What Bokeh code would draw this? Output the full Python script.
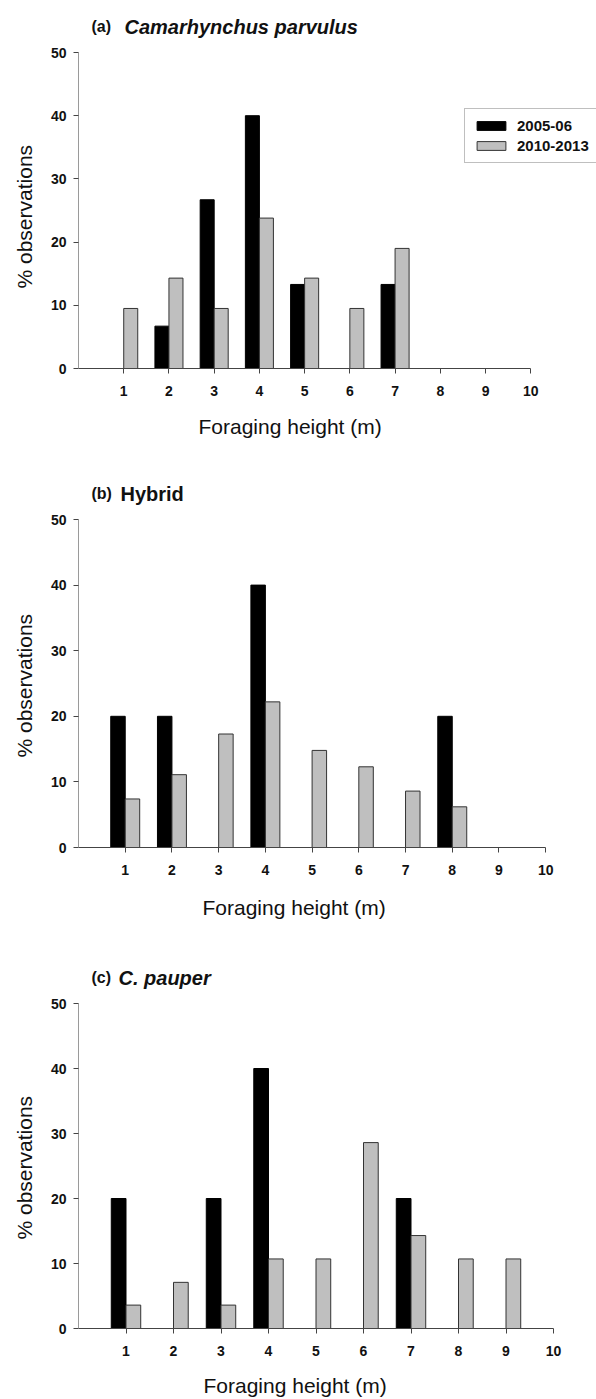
from bokeh.plotting import figure
from bokeh.models import (ColumnDataSource, FixedTicker, Label, Legend,
                          LegendItem, LinearAxis, Range1d, Title)
from bokeh.layouts import column
from bokeh.embed import file_html
from bokeh.resources import INLINE

# Foraging height classes (m) and survey periods
heights = [1, 2, 3, 4, 5, 6, 7, 8, 9, 10]
periods = ["2005-06", "2010-2013"]
y_ticks = [0, 10, 20, 30, 40, 50]

# % of observations per height class
parvulus_2005 = [0, 6.7, 26.7, 40.0, 13.3, 0, 13.3, 0, 0, 0]
parvulus_2010 = [9.5, 14.3, 9.5, 23.8, 14.3, 9.5, 19.0, 0, 0, 0]

hybrid_2005 = [20.0, 20.0, 0, 40.0, 0, 0, 0, 20.0, 0, 0]
hybrid_2010 = [7.4, 11.1, 17.3, 22.2, 14.8, 12.3, 8.6, 6.2, 0, 0]

pauper_2005 = [20.0, 0, 20.0, 40.0, 0, 0, 20.0, 0, 0, 0]
pauper_2010 = [3.6, 7.1, 3.6, 10.7, 10.7, 28.6, 14.3, 10.7, 10.7, 0]

FONT = "Liberation Sans"
BAR_W = 0.31
BLACK = "#000000"
GREY = "#bfbfbf"
CANVAS_W = 596


def bar_source(values, shift):
    xs = [h + shift for h, v in zip(heights, values) if v > 0]
    tops = [v for v in values if v > 0]
    return ColumnDataSource(data=dict(x=xs, top=tops))


def axis_title(text, offset, standoff):
    return Title(text=text, align="left", offset=offset,
                 vertical_align="middle", standoff=standoff, text_font=FONT,
                 text_font_size="21px", text_font_style="normal",
                 text_color="#111111")


def gap_axis(size, at):
    """A blank white-ticked axis that only leaves room above the x title."""
    return LinearAxis(ticker=FixedTicker(ticks=[at]), axis_line_color=None,
                      major_tick_in=0, major_tick_out=size,
                      major_tick_line_color="#ffffff", minor_tick_in=0,
                      minor_tick_out=0, minor_tick_line_color=None,
                      major_label_standoff=0,
                      major_label_overrides={at: ""},
                      major_label_text_font_size="0px")


def make_panel(tag, species, italic, early, late, height, left, axis_w,
               bottom, top_gap, title_base, species_x, xlab_off, ylab_off,
               xstand, ystand, xgap=0, legend=False):
    """One histogram panel; the frame runs to the top and right edges of
    the canvas so the heading and legend can sit inside it, while the axes
    are limited to 0-10 m and 0-50 %."""
    frame_w = CANVAS_W - left
    frame_h = height - bottom
    x_end = 10 * frame_w / axis_w
    y_end = 50 * frame_h / (frame_h - top_gap)

    p = figure(width=CANVAS_W, height=height,
               x_range=Range1d(0, x_end), y_range=Range1d(0, y_end),
               output_backend="svg", toolbar_location=None,
               min_border_left=left, min_border_right=0,
               min_border_top=0, min_border_bottom=bottom)
    p.outline_line_color = None
    p.grid.visible = False
    p.background_fill_color = "white"

    r_early = p.vbar(x="x", top="top", width=BAR_W, bottom=0,
                     source=bar_source(early, -BAR_W / 2),
                     fill_color=BLACK, line_color=BLACK, line_width=1)
    r_late = p.vbar(x="x", top="top", width=BAR_W, bottom=0,
                    source=bar_source(late, BAR_W / 2),
                    fill_color=GREY, line_color="#333333", line_width=1)

    for ax in (p.xaxis[0], p.yaxis[0]):
        ax.major_tick_in = 0
        ax.major_tick_out = 5
        ax.minor_tick_line_color = None
        ax.major_tick_line_color = "#444444"
        ax.major_label_text_font = FONT
        ax.major_label_text_font_size = "14px"
        ax.major_label_text_font_style = "bold"
        ax.major_label_text_color = "#111111"

    p.xaxis.ticker = FixedTicker(ticks=heights)
    p.xaxis.bounds = (0, 10)
    p.xaxis.axis_line_color = "#444444"
    p.xaxis.major_label_standoff = 12

    p.yaxis.ticker = FixedTicker(ticks=y_ticks)
    p.yaxis.bounds = (0, 50)
    p.yaxis.axis_line_color = "#9a9a9a"
    p.yaxis.major_label_standoff = 7

    # axis titles, set beside the axes
    if xgap:
        p.add_layout(gap_axis(xgap, round(x_end - 0.05, 2)), "below")
    p.add_layout(axis_title("Foraging height (m)", xlab_off, xstand), "below")
    p.add_layout(axis_title("% observations", ylab_off, ystand), "left")

    # heading: small bold panel tag followed by the taxon name
    base_y = frame_h - title_base
    p.add_layout(Label(x=13, y=base_y, x_units="screen", y_units="screen",
                       text=tag, text_font=FONT, text_font_size="16px",
                       text_font_style="bold", text_baseline="alphabetic",
                       text_color="#111111"))
    p.add_layout(Label(x=species_x, y=base_y, x_units="screen",
                       y_units="screen", text=species, text_font=FONT,
                       text_font_size="20px",
                       text_font_style="bold italic" if italic else "bold",
                       text_baseline="alphabetic", text_color="#111111"))

    if legend:
        lg = Legend(items=[LegendItem(label=periods[0], renderers=[r_early]),
                           LegendItem(label=periods[1], renderers=[r_late])],
                    location=(386, 205), orientation="vertical",
                    glyph_width=36, glyph_height=11, label_height=17,
                    spacing=3, padding=8, margin=0, label_standoff=8,
                    label_text_font=FONT, label_text_font_size="15px",
                    label_text_font_style="bold",
                    label_text_color="#111111",
                    border_line_color="#808080", border_line_width=1,
                    background_fill_color="white", background_fill_alpha=1)
        p.add_layout(lg)
    return p


pa = make_panel("(a)", "Camarhynchus parvulus", True,
                parvulus_2005, parvulus_2010,
                height=460, left=76, axis_w=454, bottom=92, top_gap=52,
                title_base=26, species_x=46, xlab_off=120, ylab_off=80,
                xstand=30, ystand=22, legend=True)
pb = make_panel("(b)", "Hybrid", False, hybrid_2005, hybrid_2010,
                height=480, left=76, axis_w=469, bottom=93, top_gap=59,
                title_base=33, species_x=42, xlab_off=124, ylab_off=90,
                xstand=34, ystand=22)
pc = make_panel("(c)", "C. pauper", True, pauper_2005, pauper_2010,
                height=459, left=78, axis_w=475, bottom=71, top_gap=63,
                title_base=37, species_x=40, xlab_off=125, ylab_off=89,
                xstand=0, ystand=22, xgap=14)

layout = column(pa, pb, pc, spacing=0)
open("out.html", "w").write(file_html(layout, INLINE))
